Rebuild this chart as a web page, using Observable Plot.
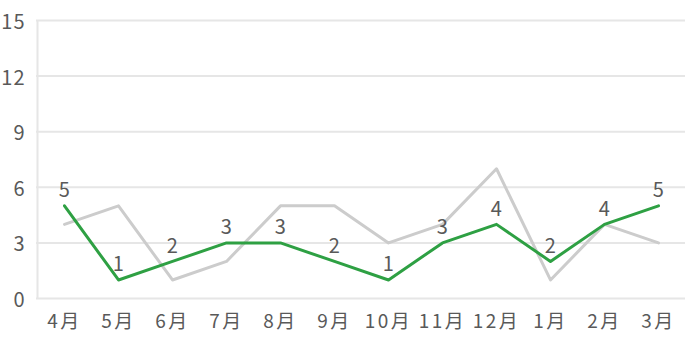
<!DOCTYPE html>
<html>
<head>
<meta charset="utf-8">
<script src="https://cdn.jsdelivr.net/npm/d3@7"></script>
<script src="https://cdn.jsdelivr.net/npm/@observablehq/plot@0.6"></script>
<style>
  body { margin: 0; background: #fff; }
  svg { font-family: "Noto Sans CJK JP", "Noto Sans", sans-serif; font-weight: 400; }
  svg g[aria-label="x-axis tick label"] text { letter-spacing: 2.5px; }
  svg g[aria-label="y-axis tick label"] text { letter-spacing: 1px; }
  svg g[aria-label="text"] text { letter-spacing: 0.5px; }
</style>
</head>
<body>
<div id="chart"></div>
<script>
const months = ["4月","5月","6月","7月","8月","9月","10月","11月","12月","1月","2月","3月"];
const greenValues = [5,1,2,3,3,2,1,3,4,2,4,5];
const grayValues = [4,5,1,2,5,5,3,4,7,1,4,3];
const yTicks = [0,3,6,9,12,15];

const green = months.map((m, i) => ({month: m, value: greenValues[i]}));
const gray = months.map((m, i) => ({month: m, value: grayValues[i]}));

const chart = Plot.plot({
  width: 685,
  height: 352,
  marginLeft: 36,
  marginRight: 0,
  marginTop: 20,
  marginBottom: 54,
  style: {fontSize: "18px", color: "#595959", background: "#fff"},
  x: {type: "point", domain: months, padding: 0.5, label: null},
  y: {domain: [0, 15], ticks: yTicks, label: null},
  marks: [
    Plot.gridY(yTicks, {stroke: "#e6e6e6", strokeOpacity: 1, strokeWidth: 2}),
    Plot.ruleX([0], {x: () => months[0], dx: -27, y1: 0, y2: 15, stroke: "#e6e6e6", strokeWidth: 2}),
    Plot.axisY(yTicks, {tickSize: 0, tickPadding: 11, fontSize: 20, fill: "#595959", dy: 2}),
    Plot.axisX({tickSize: 0, tickPadding: 16, fontSize: 19, fill: "#595959"}),
    Plot.line(gray, {x: "month", y: "value", stroke: "#cccccc", strokeWidth: 3}),
    Plot.line(green, {x: "month", y: "value", stroke: "#2ea043", strokeWidth: 3}),
    Plot.text(green, {x: "month", y: "value", text: d => String(d.value), dy: -15, fontSize: 20, fill: "#595959"})
  ]
});
document.getElementById("chart").appendChild(chart);
</script>
</body>
</html>
